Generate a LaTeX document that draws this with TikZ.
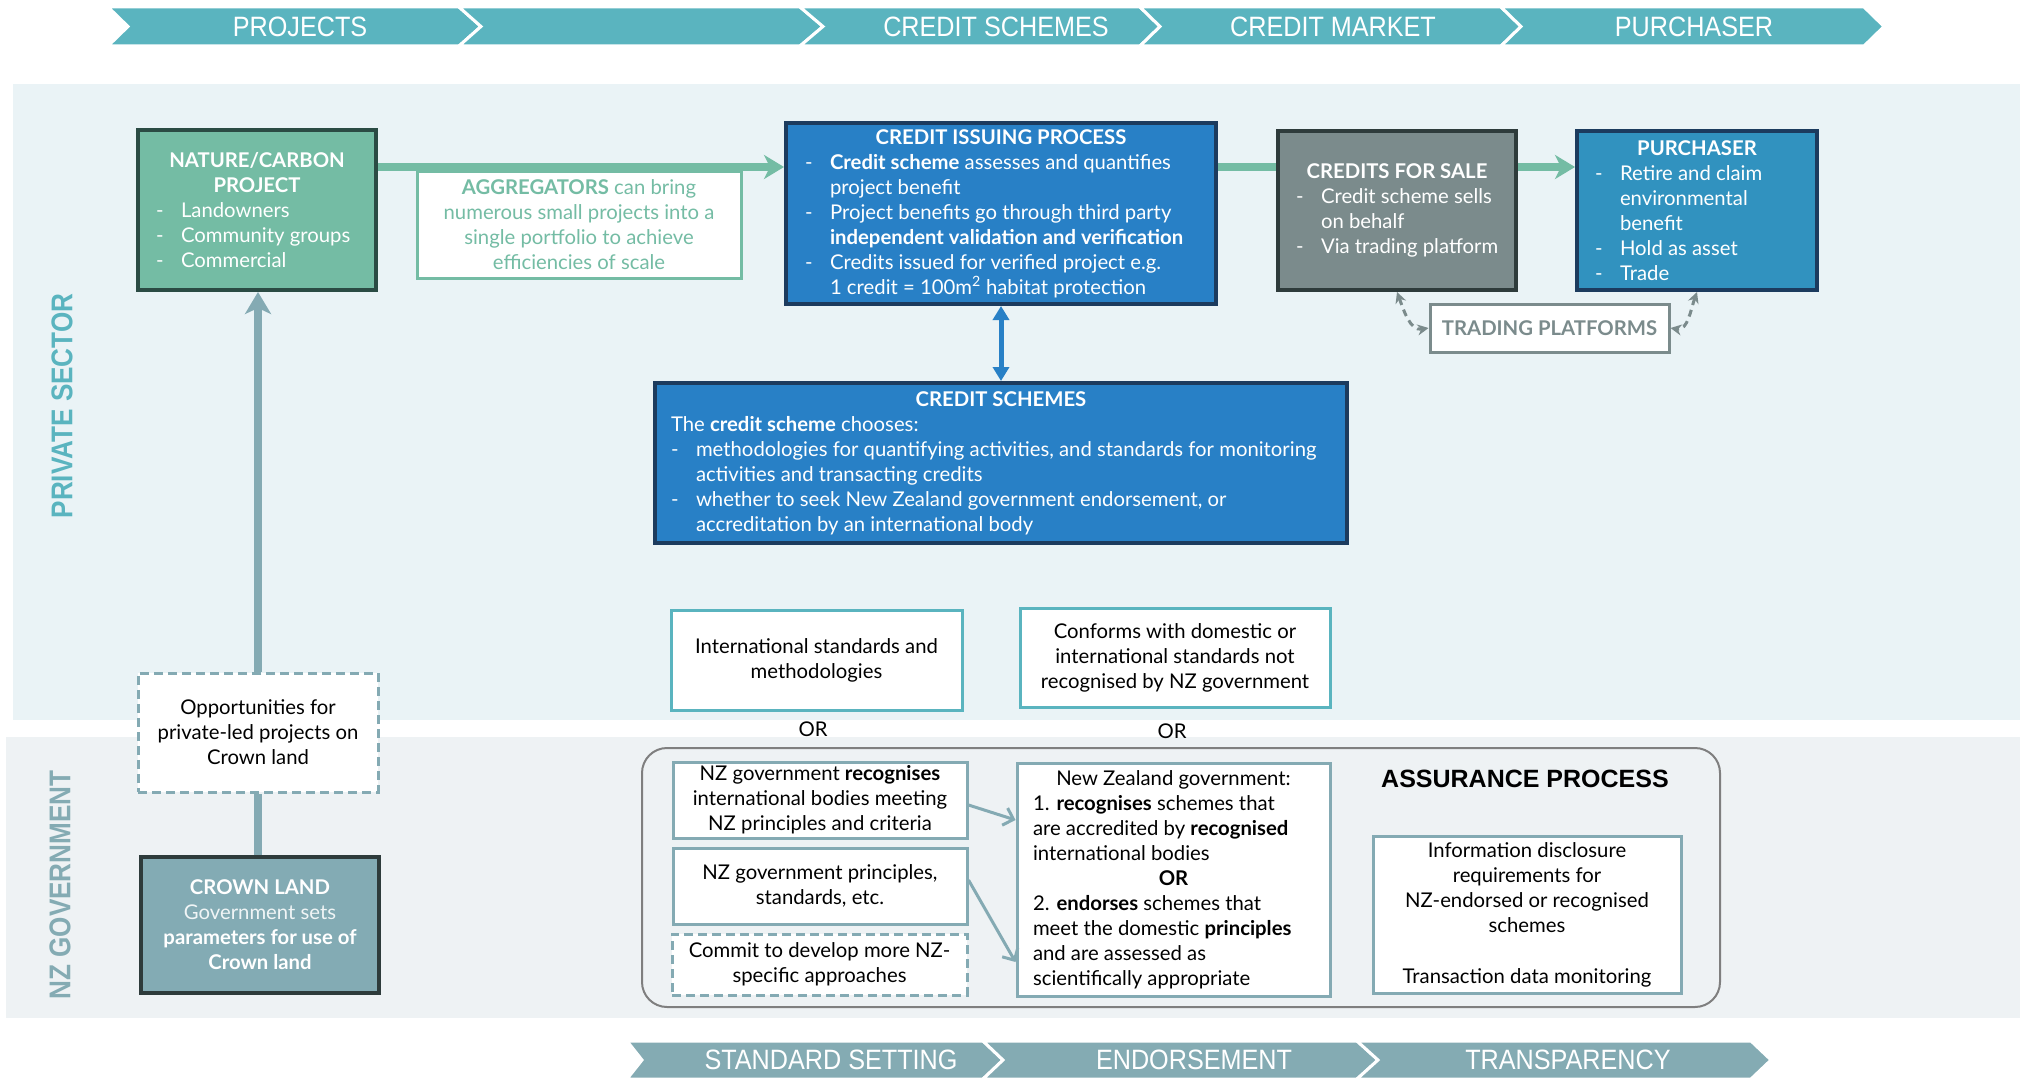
\documentclass[tikz,border=0pt]{standalone}
\usepackage{fontspec}
\setmainfont{Lato}
\newfontfamily\banfont[FakeStretch=0.9]{Liberation Sans}
\newfontfamily\arialfont{Liberation Sans}
\usetikzlibrary{arrows.meta,calc}
\definecolor{banteal}{HTML}{5AB4BF}
\definecolor{bangray}{HTML}{84ABB3}
\definecolor{privbg}{HTML}{EAF3F6}
\definecolor{nzbg}{HTML}{EEF2F4}
\definecolor{grn}{HTML}{74BCA4}
\definecolor{grnbd}{HTML}{2B4B44}
\definecolor{blu}{HTML}{2880C6}
\definecolor{navy}{HTML}{1C3B5E}
\definecolor{gry}{HTML}{7B8B8C}
\definecolor{dkgry}{HTML}{2E3B3B}
\definecolor{purc}{HTML}{3192BF}
\definecolor{crwn}{HTML}{83ABB4}
\definecolor{nzbd}{HTML}{84AAB3}
\definecolor{assbd}{HTML}{7F7F7F}
\newcommand\dl[2]{\makebox[#1pt][l]{\makebox[25pt][l]{-}#2}}
\newcommand\cl[2]{\makebox[#1pt][l]{\hspace*{25pt}#2}}
\newcommand\pl[2]{\makebox[#1pt][l]{#2}}
\newcommand\sidelabel[1]{\scalebox{0.87}[1]{\arialfont\bfseries\fontsize{30}{32}\selectfont #1}}
\tikzset{
  base/.style={font=\fontsize{20.3}{25}\selectfont, align=center, inner sep=2pt},
  solidbox/.style={base, draw, line width=4pt, text=white},
  wbox/.style={base, draw, fill=white, line width=3pt, text=black},
  dashbox/.style={dash pattern=on 9pt off 5pt},
  bantext/.style={font=\banfont\fontsize{28}{30}\selectfont, text=white, inner sep=0pt},
  sidetext/.style={rotate=90, inner sep=0pt},
  garrow/.style={draw=grn, line width=8pt, -{Stealth[length=20pt,width=24pt,inset=6pt]}},
  gline/.style={draw=grn, line width=8pt},
  tarrow/.style={draw=nzbd, line width=8pt, -{Stealth[length=22pt,width=26pt,inset=6pt]}},
  tline/.style={draw=nzbd, line width=8pt},
  barrow/.style={draw=blu, line width=5pt, {Triangle[length=14pt,width=16pt]}-{Triangle[length=14pt,width=16pt]}},
  darrow/.style={draw=gry, line width=3pt, dash pattern=on 7pt off 5pt, {Stealth[length=11pt,width=11pt]}-{Stealth[length=11pt,width=11pt]}},
  narrow/.style={draw=nzbd, line width=3pt, -{Straight Barb[length=9pt,width=18pt]}}
}
\begin{document}
\begin{tikzpicture}[x=1pt,y=-1pt]
\useasboundingbox (0,0) rectangle (2020,1078);
\fill[white] (0,0) rectangle (2020,1078);
% panels
\fill[privbg] (13,84) rectangle (2020,720);
\fill[nzbg] (6,737) rectangle (2020,1018);
% top banner
\fill[banteal, draw=white, line width=3pt] (108,7) -- (459,7) -- (481,26.5) -- (459,46) -- (108,46) -- (128,26.5) -- cycle;
\fill[banteal, draw=white, line width=3pt] (459,7) -- (800,7) -- (823,26.5) -- (800,46) -- (459,46) -- (481,26.5) -- cycle;
\fill[banteal, draw=white, line width=3pt] (800,7) -- (1140,7) -- (1160,26.5) -- (1140,46) -- (800,46) -- (823,26.5) -- cycle;
\fill[banteal, draw=white, line width=3pt] (1140,7) -- (1501,7) -- (1521,26.5) -- (1501,46) -- (1140,46) -- (1160,26.5) -- cycle;
\fill[banteal, draw=white, line width=3pt] (1501,7) -- (1864,7) -- (1884,26.5) -- (1864,46) -- (1501,46) -- (1521,26.5) -- cycle;
\node[bantext] (b1) at (300,26.5) {PROJECTS};
\node[bantext] (b3) at (996,26.5) {CREDIT SCHEMES};
\node[bantext] (b4) at (1333,26.5) {CREDIT MARKET};
\node[bantext] (b5) at (1694,26.5) {PURCHASER};
% bottom banner
\fill[bangray, draw=white, line width=3pt] (627,1041) -- (983,1041) -- (1003,1060) -- (983,1079) -- (627,1079) -- (642,1060) -- cycle;
\fill[bangray, draw=white, line width=3pt] (983,1041) -- (1357,1041) -- (1378,1060) -- (1357,1079) -- (983,1079) -- (1003,1060) -- cycle;
\fill[bangray, draw=white, line width=3pt] (1357,1041) -- (1751,1041) -- (1771,1060) -- (1751,1079) -- (1357,1079) -- (1378,1060) -- cycle;
\node[bantext] (s1) at (831,1060) {STANDARD SETTING};
\node[bantext] (s2) at (1194,1060) {ENDORSEMENT};
\node[bantext] (s3) at (1568,1060) {TRANSPARENCY};
% side labels
\node[sidetext, text=banteal] (pvt) at (62,406) {\sidelabel{PRIVATE SECTOR}};
\node[sidetext, text=bangray] (nzg) at (60,885) {\sidelabel{NZ GOVERNMENT}};
% private sector boxes
\node[solidbox, fill=grn, draw=grnbd, minimum width=238pt, minimum height=160pt] (nature) at (257,210)
 {\textbf{NATURE/CARBON}\\\textbf{PROJECT}\\\dl{202}{Landowners}\\\dl{202}{Community groups}\\\dl{202}{Commercial}};
\node[wbox, draw=grn, text=grn, minimum width=324pt, minimum height=106pt] (agg) at (579,225)
 {\textbf{AGGREGATORS} can bring\\numerous small projects into a\\single portfolio to achieve\\efficiencies of scale};
\node[solidbox, fill=blu, draw=navy, minimum width=430pt, minimum height=181pt] (issue) at (1001,213.5)
 {\textbf{CREDIT ISSUING PROCESS}\\
  \dl{392}{\textbf{Credit scheme} assesses and quantifies}\\
  \cl{392}{project benefit}\\
  \dl{392}{Project benefits go through third party}\\
  \cl{392}{\textbf{independent validation and verification}}\\
  \dl{392}{Credits issued for verified project e.g.}\\
  \cl{392}{1 credit = 100m\textsuperscript{2} habitat protection}};
\node[solidbox, fill=gry, draw=dkgry, minimum width=238pt, minimum height=159pt] (sale) at (1397,210.5)
 {\textbf{CREDITS FOR SALE}\\\dl{202}{Credit scheme sells}\\\cl{202}{on behalf}\\\dl{202}{Via trading platform}};
\node[solidbox, fill=purc, draw=navy, minimum width=240pt, minimum height=159pt] (purch) at (1697,210.5)
 {\textbf{PURCHASER}\\\dl{204}{Retire and claim}\\\cl{204}{environmental}\\\cl{204}{benefit}\\\dl{204}{Hold as asset}\\\dl{204}{Trade}};
\node[wbox, draw=gry, text=gry, minimum width=239pt, minimum height=48pt] (tp) at (1549.5,328) {\textbf{TRADING PLATFORMS}};
\node[solidbox, fill=blu, draw=navy, minimum width=692pt, minimum height=160pt] (schemes) at (1001,463)
 {\textbf{CREDIT SCHEMES}\\
  \pl{660}{The \textbf{credit scheme} chooses:}\\
  \dl{660}{methodologies for quantifying activities, and standards for monitoring}\\
  \cl{660}{activities and transacting credits}\\
  \dl{660}{whether to seek New Zealand government endorsement, or}\\
  \cl{660}{accreditation by an international body}};
\node[wbox, draw=banteal, minimum width=291pt, minimum height=100pt] (intl) at (816.5,660) {International standards and\\methodologies};
\node[wbox, draw=banteal, minimum width=310pt, minimum height=99pt] (conf) at (1175,657.5) {Conforms with domestic or\\international standards not\\recognised by NZ government};
\node[base] (or1) at (813,729) {OR};
\node[base] (or2) at (1172,731) {OR};
% NZ government
\node[draw=assbd, line width=2pt, rounded corners=25pt, minimum width=1078pt, minimum height=259pt] (assur) at (1181,877.5) {};
\node[font=\arialfont\bfseries\fontsize{25}{30}\selectfont, inner sep=0pt] (atitle) at (1525,779) {ASSURANCE PROCESS};
\node[wbox, draw=nzbd, minimum width=294pt, minimum height=76pt] (rec) at (820,800) {NZ government \textbf{recognises}\\international bodies meeting\\NZ principles and criteria};
\node[wbox, draw=nzbd, minimum width=294pt, minimum height=76pt] (prin) at (820,886) {NZ government principles,\\standards, etc.};
\node[wbox, draw=nzbd, dashbox, minimum width=295pt, minimum height=61pt] (commit) at (819.5,964.5) {Commit to develop more NZ-\\specific approaches};
\node[wbox, draw=nzbd, minimum width=313pt, minimum height=233pt] (nzgov) at (1173.5,879.5)
 {New Zealand government:\\
  \pl{281}{1. \textbf{recognises} schemes that}\\
  \pl{281}{are accredited by \textbf{recognised}}\\
  \pl{281}{international bodies}\\
  \textbf{OR}\\
  \pl{281}{2. \textbf{endorses} schemes that}\\
  \pl{281}{meet the domestic \textbf{principles}}\\
  \pl{281}{and are assessed as}\\
  \pl{281}{scientifically appropriate}};
\node[wbox, draw=nzbd, minimum width=308pt, minimum height=157pt] (info) at (1527,914.5)
 {Information disclosure\\requirements for\\NZ-endorsed or recognised\\schemes\\[26pt]Transaction data monitoring};
\node[wbox, draw=nzbd, dashbox, minimum width=240pt, minimum height=119pt] (opp) at (258,732.5) {Opportunities for\\private-led projects on\\Crown land};
\node[solidbox, fill=crwn, draw=dkgry, minimum width=238pt, minimum height=136pt] (crown) at (260,925)
 {\textbf{CROWN LAND}\\{\color{white!88!crwn}Government sets}\\\textbf{parameters for use of}\\\textbf{Crown land}};
% connectors
\coordinate (gl) at (0,167);
\draw[garrow] (nature.east |- gl) -- (issue.west |- gl);
\draw[gline] (issue.east |- gl) -- (sale.west |- gl);
\draw[garrow] (sale.east |- gl) -- (purch.west |- gl);
\draw[barrow] (issue.south) -- (schemes.north);
\draw[darrow] (sale.south) to[out=-70,in=190] (tp.west);
\draw[darrow] (purch.south) to[out=-110,in=-10] (tp.east);
\draw[tarrow] (opp.north) -- (opp.north |- nature.south);
\draw[tline] (crown.north -| opp.south) -- (opp.south);
\coordinate (a1) at (0,820);
\coordinate (a2) at (0,962);
\draw[narrow] ([yshift=-5pt]rec.east) -- (nzgov.west |- a1);
\draw[narrow] ([yshift=6pt]prin.east) -- (nzgov.west |- a2);
\end{tikzpicture}
\end{document}
